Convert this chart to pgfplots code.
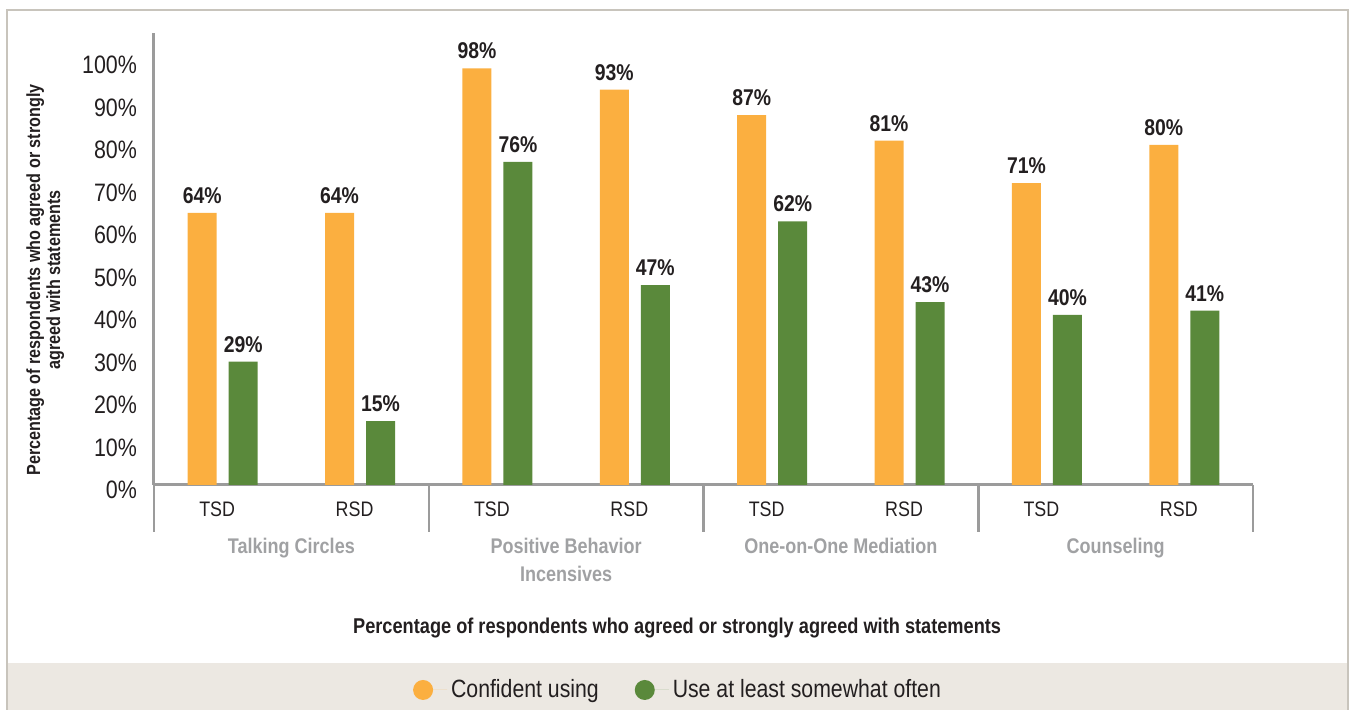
\documentclass[border=0pt]{standalone}
\usepackage{fontspec}
\setmainfont{Liberation Sans}[FakeStretch=0.85]
\usepackage{pgfplots}
\pgfplotsset{compat=1.18}
\definecolor{corange}{RGB}{251,175,64}
\definecolor{cgreen}{RGB}{90,137,59}
\definecolor{caxis}{RGB}{155,155,155}
\definecolor{cgroup}{RGB}{160,161,163}
\definecolor{ctext}{RGB}{35,31,32}
\definecolor{cframe}{RGB}{200,196,188}
\definecolor{cband}{RGB}{236,232,226}
\begin{document}
\begin{tikzpicture}[x=1pt,y=1pt]
\useasboundingbox (0,0) rectangle (675.5,355);
\fill[cband] (3.5,0) rectangle (674,23.5);
\draw[cframe, line width=1pt] (3.5,0) -- (3.5,350) -- (674,350) -- (674,0);
\begin{axis}[
    at={(77pt,112.5pt)}, anchor=south west,
    scale only axis, width=549.5pt, height=226pt,
    xmin=-0.5, xmax=7.5, ymin=0, ymax=106.35,
    clip=false,
    axis x line*=bottom, axis y line*=left,
    axis line style={draw=caxis, line width=1.5pt, -},
    every outer x axis line/.append style={-},
    every outer y axis line/.append style={-},
    ybar=6pt, bar width=14.5pt,
    xtick={0,...,7},
    xticklabels={TSD,RSD,TSD,RSD,TSD,RSD,TSD,RSD},
    ytick={0,10,...,100},
    yticklabel={\pgfmathprintnumber{\tick}\%},
    /pgf/number format/assume math mode=true,
    major tick length=0pt,
    tick style={draw=none},
    xticklabel style={font=\fontsize{10.5}{12}\selectfont, text=ctext, yshift=-5pt, xshift=-2.75pt},
    yticklabel style={font=\fontsize{12.6}{14}\selectfont, text=ctext, xshift=-5pt, yshift=-2.5pt},
    xlabel={Percentage of respondents who agreed or strongly agreed with statements},
    xlabel style={font=\bfseries\fontsize{10.7}{12}\selectfont, text=ctext, at={(0.476,-0.316)}, anchor=center},
    ylabel={Percentage of respondents who agreed or strongly\\agreed with statements},
    ylabel style={font=\bfseries\fontsize{9.5}{10}\selectfont, text=ctext, align=center, at={(-0.099,0.4535)}, anchor=center},
    nodes near coords={\pgfmathprintnumber{\pgfplotspointmeta}\%},
    every node near coord/.append style={font=\bfseries\fontsize{11.4}{12}\selectfont, text=ctext, inner sep=0pt, yshift=4.5pt},
    legend columns=2,
    legend style={at={(0.4777,-0.4535)}, anchor=center, draw=none, fill=none,
        font=\fontsize{12.5}{14}\selectfont, text=ctext,
        /tikz/every even column/.append style={column sep=16pt}},
]
\addplot[fill=corange, draw=none,
    legend image code/.code={\fill[corange] (5pt,0pt) circle (5pt); \path (0pt,0pt) -- (17pt,0pt);}]
    coordinates {(0,64)(1,64)(2,98)(3,93)(4,87)(5,81)(6,71)(7,80)};
\addlegendentry{Confident using}
\addplot[fill=cgreen, draw=none,
    legend image code/.code={\fill[cgreen] (5pt,0pt) circle (5pt); \path (0pt,0pt) -- (17pt,0pt);}]
    coordinates {(0,29)(1,15)(2,76)(3,47)(4,62)(5,43)(6,40)(7,41)};
\addlegendentry{Use at least somewhat often}
\pgfplotsinvokeforeach{-0.5,1.5,3.5,5.5,7.5}{
    \draw[caxis, line width=1.25pt] (axis cs:#1,0) -- ++(0pt,-23.5pt);
}
\tikzset{grp/.style={font=\bfseries\fontsize{10.6}{12}\selectfont, text=cgroup, anchor=base}}
\node[grp, yshift=-34.5pt] at (axis cs:0.5,0) {Talking Circles};
\node[grp, yshift=-34.5pt] at (axis cs:2.5,0) {Positive Behavior};
\node[grp, yshift=-48.5pt] at (axis cs:2.5,0) {Incensives};
\node[grp, yshift=-34.5pt] at (axis cs:4.5,0) {One-on-One Mediation};
\node[grp, yshift=-34.5pt] at (axis cs:6.5,0) {Counseling};
\end{axis}
\end{tikzpicture}
\end{document}
